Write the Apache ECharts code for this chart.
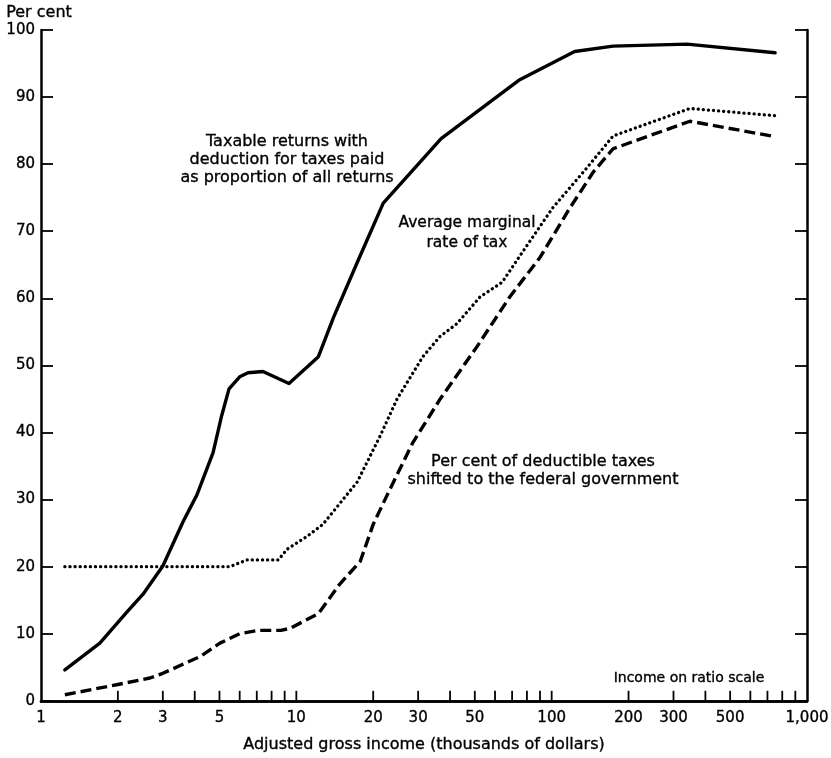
<!DOCTYPE html>
<html>
<head>
<meta charset="utf-8">
<script src="https://cdn.jsdelivr.net/npm/echarts@6/dist/echarts.min.js"></script>
<style>html,body{margin:0;padding:0;background:#fff}#c{width:831px;height:758px}</style>
</head>
<body>
<div id="c"></div>
<script>
// ---- data ----
const taxableReturns = [[1.24,4.6],[1.7,8.6],[2.19,13.4],[2.51,15.9],[3.0,20.1],[3.6,26.7],[4.08,30.7],[4.72,37.0],[5.1,42.5],[5.45,46.5],[6.0,48.3],[6.47,48.9],[7.4,49.1],[9.36,47.3],[12.2,51.3],[14.0,57.2],[17.3,65.3],[21.9,74.2],[36.9,83.8],[75,92.6],[123,96.8],[174,97.6],[339,97.9],[750,96.6]];
const marginalRate = [[1.24,20],[5.5,20],[6.4,21],[8.5,21],[9.2,22.6],[11.0,24.5],[12.7,26.3],[14.5,29.0],[17.3,32.6],[21.3,39.5],[24.8,45],[31.3,51.3],[36.5,54.3],[42.5,56.2],[52.4,60.2],[64,62.4],[75,66.3],[101,73.5],[137,79.4],[174,84.2],[348,88.3],[765,87.2]];
const shiftedTaxes = [[1.24,0.9],[1.98,2.4],[2.67,3.4],[3.0,4.1],[4.2,6.6],[5.02,8.6],[6.0,10.0],[7.1,10.5],[8.7,10.5],[9.45,10.8],[12.2,13.0],[14.8,17.4],[17.8,20.8],[20,26.3],[22.7,30.7],[28.6,38.5],[36.6,45],[51,52.8],[68.5,60.2],[90,66.1],[118,73.5],[146,78.9],[174,82.3],[348,86.4],[750,84.1]];
const xTickValues = [2,3,4,5,6,7,8,9,10,20,30,40,50,60,70,80,90,100,200,300,400,500,600,700,800,900];
const xLabelValues = [1,2,3,5,10,20,30,50,100,200,300,500,1000];
const xLabelTexts = ['1','2','3','5','10','20','30','50','100','200','300','500','1,000'];

const FONT = 'DejaVu Sans';
const chart = echarts.init(document.getElementById('c'), null, {renderer:'canvas'});

const axisLineStyle = {color:'#000', width:2.5};
const txt = (size) => ({fill:'#000', font:size+'px "'+FONT+'"', stroke:'#000', lineWidth:0.35});

const option = {
  animation:false,
  backgroundColor:'#fff',
  grid:{left:41, right:24, top:30, bottom:50, containLabel:false},
  xAxis:[
    {type:'log', logBase:10, min:1, max:1000, position:'bottom',
     axisLine:{show:true, lineStyle:axisLineStyle}, axisTick:{show:false}, axisLabel:{show:false},
     splitLine:{show:false}, minorTick:{show:false},
     name:'Adjusted gross income (thousands of dollars)', nameLocation:'middle', nameGap:36,
     nameTextStyle:{fontFamily:FONT, fontSize:16, color:'#000', textBorderColor:'#000', textBorderWidth:0.35}},
    {type:'log', logBase:10, min:1, max:1000, position:'top',
     axisLine:{show:true, lineStyle:axisLineStyle}, axisTick:{show:false}, axisLabel:{show:false}, splitLine:{show:false}}
  ],
  yAxis:[
    {type:'value', min:0, max:100, interval:10, position:'left',
     axisLine:{show:true, lineStyle:axisLineStyle},
     axisTick:{show:true, inside:true, length:12, lineStyle:{color:'#000', width:1.8}},
     axisLabel:{fontFamily:FONT, fontSize:15, color:'#000', margin:6, textBorderColor:'#000', textBorderWidth:0.35},
     splitLine:{show:false}},
    {type:'value', min:0, max:100, interval:10, position:'right',
     axisLine:{show:true, lineStyle:axisLineStyle},
     axisTick:{show:true, inside:true, length:12, lineStyle:{color:'#000', width:1.8}},
     axisLabel:{show:false}, splitLine:{show:false}}
  ],
  series:[
    {type:'line', name:'Taxable returns', data:taxableReturns, showSymbol:false, symbol:'none',
     lineStyle:{color:'#000', width:3.4, type:'solid', join:'round', cap:'round'}},
    {type:'line', name:'Average marginal rate', data:marginalRate, showSymbol:false, symbol:'none',
     lineStyle:{color:'#000', width:3.3, type:[0.1,5], cap:'round', join:'round'}},
    {type:'line', name:'Shifted', data:shiftedTaxes, showSymbol:false, symbol:'none',
     lineStyle:{color:'#000', width:3.4, type:[11,5], cap:'butt', join:'round'}},
    {type:'custom', name:'xticks', clip:false, silent:true,
     data:xTickValues.map(v=>[v,0]),
     renderItem:function(params, api){
       const p = api.coord([api.value(0), api.value(1)]);
       return {type:'line', shape:{x1:p[0], y1:p[1], x2:p[0], y2:p[1]-10},
               style:{stroke:'#000', lineWidth:1.8}};
     }},
    {type:'custom', name:'xlabels', clip:false, silent:true,
     data:xLabelValues.map((v,i)=>[v,0,i]),
     renderItem:function(params, api){
       const p = api.coord([api.value(0), api.value(1)]);
       return {type:'text', x:p[0], y:p[1]+10,
               style:Object.assign(txt(15), {text:xLabelTexts[api.value(2)], textAlign:'center', textVerticalAlign:'top'})};
     }}
  ],
  graphic:[
    {type:'text', left:6, top:5, style:Object.assign(txt(16), {text:'Per cent'})},
    {type:'text', x:287, y:160, style:Object.assign(txt(16), {text:'Taxable returns with\ndeduction for taxes paid\nas proportion of all returns',
      textAlign:'center', textVerticalAlign:'middle', lineHeight:18})},
    {type:'text', x:467, y:233, style:Object.assign(txt(15.5), {text:'Average marginal\nrate of tax',
      textAlign:'center', textVerticalAlign:'middle', lineHeight:20})},
    {type:'text', x:543, y:471, style:Object.assign(txt(16), {text:'Per cent of deductible taxes\nshifted to the federal government',
      textAlign:'center', textVerticalAlign:'middle', lineHeight:18})},
    {type:'text', x:689, y:678, style:Object.assign(txt(14), {text:'Income on ratio scale',
      textAlign:'center', textVerticalAlign:'middle'})}
  ]
};
chart.setOption(option);
</script>
</body>
</html>
